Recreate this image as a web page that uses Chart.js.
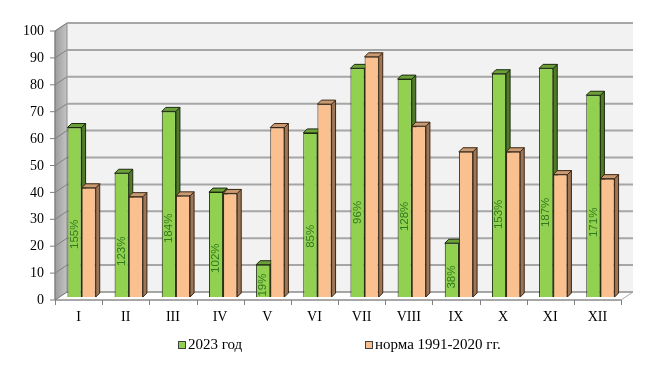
<!DOCTYPE html>
<html><head><meta charset="utf-8">
<script src="https://cdn.jsdelivr.net/npm/chart.js@4"></script>
<style>html,body{margin:0;padding:0;background:#fff}#wrap{width:649px;height:374px}</style>
</head><body><div id="wrap"><canvas id="c" width="649" height="374"></canvas></div>
<script>
const months = ['I','II','III','IV','V','VI','VII','VIII','IX','X','XI','XII'];
const year2023 = [63, 46, 69, 39, 12, 61, 85, 81, 20, 83, 85, 75];
const norm1991_2020 = [40.6, 37.3, 37.6, 38.5, 63, 71.7, 89.3, 63.5, 54, 54, 45.5, 44];
const percentOfNorm = ['155%','123%','184%','102%','19%','85%','96%','128%','38%','153%','187%','171%'];
const seriesNames = ['2023 год', 'норма 1991-2020 гг.'];

const DX = 4, DY = 4;            // bar depth
const FR = {dx: -3, dy: 3};      // front plane offset
const BK = {dx: 9, dy: -5};      // back wall offset
const faces = [
  {front: '#92d050', side: '#4f7c26', top: '#6b9f38', border: '#1c2a10'},
  {front: '#fac090', side: '#9c7656', top: '#c99a72', border: '#3a2614'}
];

function poly(ctx, pts, fill, stroke, lw) {
  ctx.beginPath();
  ctx.moveTo(pts[0][0], pts[0][1]);
  for (let i = 1; i < pts.length; i++) ctx.lineTo(pts[i][0], pts[i][1]);
  ctx.closePath();
  if (fill) { ctx.fillStyle = fill; ctx.fill(); }
  if (stroke) { ctx.strokeStyle = stroke; ctx.lineWidth = lw || 1; ctx.stroke(); }
}

const threeD = {
  id: 'threeD',
  beforeDatasetsDraw(chart) {
    const {ctx, chartArea: a, scales: {x, y}} = chart;
    const fl = a.left + FR.dx, fr = a.right + FR.dx, bl = a.left + BK.dx, br = a.right + BK.dx;
    const y0 = y.getPixelForValue(0), yTop = y.getPixelForValue(100);
    ctx.save();
    ctx.fillStyle = '#f2f2f2';
    ctx.fillRect(bl, yTop + BK.dy, br - bl, y0 - yTop);
    const g = ctx.createLinearGradient(fl, 0, bl, 0);
    g.addColorStop(0, '#9c9c9c'); g.addColorStop(1, '#c4c4c4');
    poly(ctx, [[fl, y0 + FR.dy], [fl, yTop + FR.dy], [bl, yTop + BK.dy], [bl, y0 + BK.dy]], g, '#8c8c8c', 1);
    poly(ctx, [[fl, y0 + FR.dy], [fr, y0 + FR.dy], [br, y0 + BK.dy], [bl, y0 + BK.dy]], '#ffffff', '#a6a6a6', 1);
    y.ticks.forEach(t => {
      const yy = y.getPixelForValue(t.value);
      ctx.strokeStyle = '#a6a6a6'; ctx.lineWidth = 2;
      ctx.beginPath(); ctx.moveTo(bl, yy + BK.dy); ctx.lineTo(br, yy + BK.dy); ctx.stroke();
      ctx.strokeStyle = '#808080'; ctx.lineWidth = 1;
      ctx.beginPath(); ctx.moveTo(fl, yy + FR.dy); ctx.lineTo(bl, yy + BK.dy); ctx.stroke();
      ctx.strokeStyle = '#7f7f7f';
      ctx.beginPath(); ctx.moveTo(fl - 5, yy + FR.dy); ctx.lineTo(fl, yy + FR.dy); ctx.stroke();
    });
    ctx.strokeStyle = '#7f7f7f'; ctx.lineWidth = 1;
    ctx.beginPath(); ctx.moveTo(fl, yTop + FR.dy); ctx.lineTo(fl, y0 + FR.dy); ctx.lineTo(fr, y0 + FR.dy); ctx.stroke();
    const n = chart.data.labels.length;
    for (let i = 0; i <= n; i++) {
      const xx = Math.round(fl + i * (fr - fl) / n) + 0.5;
      ctx.beginPath(); ctx.moveTo(xx, y0 + FR.dy); ctx.lineTo(xx, y0 + FR.dy + 5); ctx.stroke();
    }
    chart.data.datasets.forEach((ds, di) => {
      const meta = chart.getDatasetMeta(di);
      const f = faces[di];
      meta.data.forEach(el => {
        const p = el.getProps(['x', 'y', 'base', 'width'], true);
        const l = p.x - p.width / 2, r = p.x + p.width / 2, t = p.y, b = p.base;
        poly(ctx, [[r, t], [r + DX, t - DY], [r + DX, b - DY], [r, b]], f.side, f.border, 1);
        poly(ctx, [[l, t], [l + DX, t - DY], [r + DX, t - DY], [r, t]], f.top, f.border, 1);
      });
    });
    ctx.restore();
  },
  afterDatasetsDraw(chart) {
    const {ctx} = chart;
    const meta = chart.getDatasetMeta(0);
    ctx.save();
    ctx.font = '11.5px "Liberation Sans"';
    ctx.fillStyle = '#2f7a1f';
    ctx.textAlign = 'center';
    ctx.textBaseline = 'middle';
    meta.data.forEach((el, i) => {
      const p = el.getProps(['x', 'y', 'base'], true);
      const cy = p.base - 0.37 * (p.base - p.y);
      ctx.save();
      ctx.translate(p.x, cy);
      ctx.rotate(-Math.PI / 2);
      ctx.fillText(percentOfNorm[i], 0, 0);
      ctx.restore();
    });
    ctx.restore();
  },
  afterDraw(chart) {
    const {ctx} = chart;
    const xs = [178, 365];
    ctx.save();
    ctx.font = '15px "Liberation Serif"';
    ctx.textBaseline = 'middle';
    ctx.textAlign = 'left';
    chart.data.datasets.forEach((ds, i) => {
      ctx.fillStyle = ds.backgroundColor;
      ctx.fillRect(xs[i] + 0.5, 341.5, 7, 7);
      ctx.strokeStyle = '#404040'; ctx.lineWidth = 1;
      ctx.strokeRect(xs[i] + 0.5, 341.5, 7, 7);
      ctx.fillStyle = '#000';
      ctx.fillText(ds.label, xs[i] + 10, 345.5);
    });
    ctx.restore();
  }
};

new Chart(document.getElementById('c'), {
  type: 'bar',
  data: {
    labels: months,
    datasets: [
      {label: seriesNames[0], data: year2023, backgroundColor: faces[0].front, borderColor: faces[0].border, borderWidth: 1},
      {label: seriesNames[1], data: norm1991_2020, backgroundColor: faces[1].front, borderColor: faces[1].border, borderWidth: 1}
    ]
  },
  options: {
    responsive: false,
    devicePixelRatio: 1,
    animation: false,
    layout: {padding: {left: 0, right: 25, top: 28, bottom: 0}},
    datasets: {bar: {categoryPercentage: 0.6, barPercentage: 1}},
    plugins: {legend: {display: false}, tooltip: {enabled: false}},
    scales: {
      x: {
        grid: {display: false, drawTicks: false}, border: {display: false},
        ticks: {color: '#000', font: {family: '"Liberation Serif"', size: 14}, padding: 12, labelOffset: -3, maxRotation: 0},
        afterFit(s) { s.height = 77; }
      },
      y: {
        min: 0, max: 100,
        grid: {display: false, drawTicks: false}, border: {display: false},
        ticks: {stepSize: 10, color: '#000', font: {family: '"Liberation Serif"', size: 14}, padding: 14, labelOffset: 3.5},
        afterFit(s) { s.width = 58; }
      }
    }
  },
  plugins: [threeD]
});
</script>
</body></html>
